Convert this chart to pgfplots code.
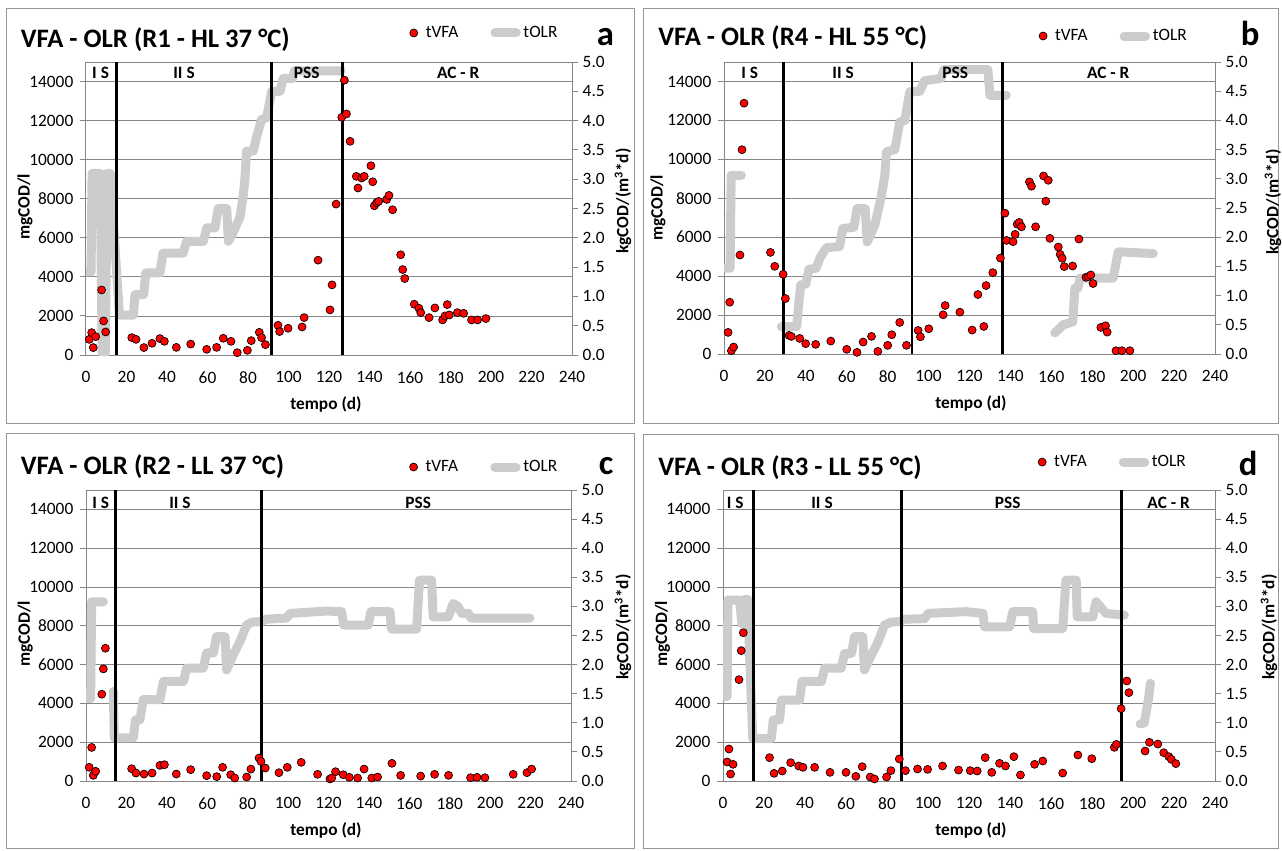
\documentclass[border=0pt]{standalone}
\usepackage{fontspec}
\setmainfont{Carlito}
\usepackage{pgfplots}
\pgfplotsset{compat=1.18}
\definecolor{olrgray}{RGB}{204,204,204}
\definecolor{axgray}{RGB}{134,134,134}
\definecolor{boxgray}{RGB}{150,150,150}
\definecolor{vfared}{RGB}{255,0,0}
\newcommand{\tickfont}{\fontsize{13}{15}\selectfont}
\newcommand{\legfont}{\fontsize{13}{15}\selectfont}
\newcommand{\labfont}{\bfseries\fontsize{13}{15}\selectfont}
\newcommand{\titfont}{\bfseries\fontsize{20}{22}\selectfont}
\newcommand{\letfont}{\bfseries\fontsize{26}{28}\selectfont}
\newcommand{\phfont}{\bfseries\fontsize{13}{15}\selectfont}
\pgfplotsset{
  leftax/.style={scale only axis, anchor=south west, xmin=0, xmax=240, ymin=0, ymax=15000,
    xtick={0,20,...,240}, ytick={0,2000,4000,6000,8000,10000,12000,14000},
    scaled y ticks=false,
    ymajorgrids, grid style={axgray, line width=0.6pt},
    axis line style={axgray, line width=0.75pt},
    tick style={axgray, line width=0.75pt},
    ytick pos=left, xtick pos=bottom, tick align=outside, major tick length=4.5pt,
    xtick style={draw=none},
    ticklabel style={font=\tickfont, text=black},
    /pgf/number format/assume math mode=true,
    yticklabel style={/pgf/number format/fixed, /pgf/number format/1000 sep={}, xshift=-1.5pt},
    xticklabel style={yshift=-4.5pt}},
  rightax/.style={scale only axis, anchor=south west, xmin=0, xmax=240, ymin=0, ymax=5,
    axis x line=none, axis y line*=right,
    ytick={0,0.5,1,1.5,2,2.5,3,3.5,4,4.5,5},
    axis line style={axgray, line width=0.75pt},
    tick style={axgray, line width=0.75pt},
    tick align=outside, major tick length=4.5pt,
    ticklabel style={font=\tickfont, text=black},
    /pgf/number format/assume math mode=true,
    yticklabel style={/pgf/number format/.cd, fixed, fixed zerofill, precision=1}},
  topax/.style={scale only axis, anchor=south west, xmin=0, xmax=240, ymin=0, ymax=15000,
    hide axis, clip=false,
    legend columns=2,
    legend style={draw=none, fill=none, anchor=west, font=\legfont, inner sep=0pt,
      /tikz/every even column/.append style={column sep=22pt}}},
  olrline/.style={olrgray, line width=6.75pt, line join=round, line cap=round, no marks},
  vfamark/.style={only marks, mark=*, mark size=3pt, mark options={fill=vfared, draw=black, line width=0.5pt}, forget plot},
  sepl/.style={black, line width=2.2pt, forget plot},
}
\newcommand{\mylegend}{%
\addlegendimage{legend image code/.code={\draw[fill=vfared, draw=black, line width=0.5pt] (3pt,0pt) circle (3pt); \path[draw=none] (0pt,0pt) -- (10pt,0pt);}}
\addlegendentry{tVFA}
\addlegendimage{legend image code/.code={\draw[olrgray, line width=6.75pt, line cap=round] (4pt,0pt) -- (20pt,0pt);}}
\addlegendentry{tOLR}}
\begin{document}
\begin{tikzpicture}
\useasboundingbox (0,0) rectangle (961.5pt,-637.5pt);
\draw[boxgray, line width=0.75pt] (4.5pt,-6pt) rectangle (475.5pt,-317.25pt);
\draw[boxgray, line width=0.75pt] (482.25pt,-6pt) rectangle (958.5pt,-317.25pt);
\draw[boxgray, line width=0.75pt] (4.5pt,-324.75pt) rectangle (475.5pt,-636pt);
\draw[boxgray, line width=0.75pt] (482.25pt,-325.5pt) rectangle (958.5pt,-636pt);

% ================= PANEL A =================
\begin{axis}[leftax, at={(64.5pt,-266.25pt)}, width=364.5pt, height=219.75pt]
\end{axis}
\begin{axis}[rightax, at={(64.5pt,-266.25pt)}, width=364.5pt, height=219.75pt]
\addplot[olrline] coordinates {(0,1.42)(2.5,1.42)(3,3.1)(7,3.1)(8,0.03)(9.5,0.03)(10.5,3.1)(12,3.1)(16.5,0.68)(23.4,0.68)(24.2,1.03)(28.5,1.03)(29.5,1.40)(36.5,1.40)(38,1.74)(48,1.74)(49.7,1.94)(58,1.94)(59.6,2.17)(63.7,2.17)(65.3,2.5)(69.5,2.5)(70.3,1.94)(72.8,2.1)(76,2.35)(77.7,2.73)(78.5,3.02)(79.3,3.48)(82.6,3.48)(84.3,3.73)(86.7,4.02)(89.2,4.05)(91.7,4.5)(95.8,4.5)(97.4,4.72)(102,4.72)(103,4.85)(126,4.85)};
\end{axis}
\begin{axis}[topax, at={(64.5pt,-266.25pt)}, width=364.5pt, height=219.75pt,
  legend style={at={(axis description cs:0.665,1.099)}}]
\addplot[sepl] coordinates {(15,0)(15,15000)};
\addplot[sepl] coordinates {(91.7,0)(91.7,15000)};
\addplot[sepl] coordinates {(126.6,0)(126.6,15000)};
\addplot[vfamark] coordinates {(1.6,800)(2.8,1145)(3.6,380)(4.8,940)(7.7,3330)(8.7,1745)(9.7,1180)(22.6,890)(24.7,800)(28.6,380)(32.6,600)(36.5,840)(38.7,700)(44.6,390)(51.7,560)(59.6,290)(64.5,390)(67.8,855)(71.6,700)(74.7,120)(79.7,240)(81.6,735)(85.6,1160)(86.7,890)(88.6,530)(94.8,1520)(95.6,1200)(99.8,1370)(106.7,1435)(107.7,1915)(114.6,4855)(120.5,2310)(121.5,3590)(123.5,7725)(126.3,12170)(127.6,14070)(128.6,12340)(130.4,10940)(133.5,9145)(134.3,8550)(136.1,9060)(137.4,9145)(140.7,9690)(141.6,8870)(142.4,7640)(143.5,7795)(144.5,7865)(148.5,7965)(149.6,8170)(151.4,7435)(155.4,5130)(156.4,4375)(157.4,3915)(162.1,2600)(164.4,2395)(165.3,2170)(169.4,1915)(172.3,2410)(176.1,1795)(177.3,2000)(178.4,2580)(179.4,2050)(183.4,2170)(186.5,2135)(190.4,1795)(193.4,1795)(197.5,1865)};
\mylegend
\node[font=\phfont] at (axis cs:7.2,14450) {I S};
\node[font=\phfont] at (axis cs:48.4,14450) {II S};
\node[font=\phfont] at (axis cs:109,14450) {PSS};
\node[font=\phfont] at (axis cs:183.8,14450) {AC - R};
\end{axis}

% ================= PANEL B =================
\begin{axis}[leftax, at={(543pt,-265.5pt)}, width=368.25pt, height=219pt]
\end{axis}
\begin{axis}[rightax, at={(543pt,-265.5pt)}, width=368.25pt, height=219pt]
\addplot[olrline] coordinates {(0,1.47)(3,1.47)(3.5,3.06)(8.5,3.06)};
\addplot[olrline] coordinates {(28,0.47)(35.5,0.47)(36.5,0.85)(37.5,1.18)(40,1.2)(41.5,1.45)(45,1.47)(47,1.65)(50,1.82)(56.5,1.84)(58,2.15)(63.5,2.17)(65,2.49)(69,2.49)(70,1.92)(73.7,2.2)(77,2.72)(78.6,3.06)(79.4,3.46)(83.5,3.5)(85.9,3.97)(88.4,4.0)(90.8,4.49)(95.7,4.5)(98.1,4.68)(106,4.72)(107.5,4.87)(129,4.87)(130,4.43)(138,4.43)};
\addplot[olrline] coordinates {(161.7,0.36)(165.8,0.5)(170.5,0.55)(171.5,1.13)(173,1.13)(174,1.3)(190.2,1.3)(192.7,1.75)(209.8,1.72)};
\end{axis}
\begin{axis}[topax, at={(543pt,-265.5pt)}, width=368.25pt, height=219pt,
  legend style={at={(axis description cs:0.6405,1.089)}}]
\addplot[sepl] coordinates {(28.9,0)(28.9,15000)};
\addplot[sepl] coordinates {(91.9,0)(91.9,15000)};
\addplot[sepl] coordinates {(136.1,0)(136.1,15000)};
\addplot[vfamark] coordinates {(2.0,1110)(2.8,2660)(3.6,170)(4.7,360)(7.8,5085)(8.8,10495)(9.8,12885)(22.7,5220)(24.8,4505)(28.9,4095)(30.0,2850)(31.8,955)(32.9,905)(37.0,800)(39.9,530)(44.8,495)(52.2,665)(60.0,240)(65.0,85)(68.0,615)(72.1,905)(75.2,135)(80.0,445)(82.0,990)(85.9,1620)(89.2,445)(94.9,1210)(96.0,885)(100.1,1295)(107.1,2015)(108.1,2490)(115.3,2150)(121.3,1230)(124.1,3055)(127.0,1415)(128.1,3515)(131.4,4180)(135.1,4930)(137.3,7235)(138.1,5835)(141.3,5770)(142.3,6145)(143.3,6670)(144.3,6760)(145.4,6535)(149.3,8840)(150.3,8620)(152.3,6535)(156.2,9145)(157.3,7850)(158.5,8925)(159.3,5940)(163.4,5495)(164.3,5120)(165.3,4915)(166.3,4490)(170.4,4520)(173.5,5905)(176.9,3940)(178.0,3975)(179.3,4060)(180.4,3620)(184.2,1365)(186.5,1450)(187.3,1125)(191.6,170)(194.5,170)(198.4,170)};
\mylegend
\node[font=\phfont] at (axis cs:12.6,14450) {I S};
\node[font=\phfont] at (axis cs:58.2,14450) {II S};
\node[font=\phfont] at (axis cs:113,14450) {PSS};
\node[font=\phfont] at (axis cs:187.8,14450) {AC - R};
\end{axis}

% ================= PANEL C =================
\begin{axis}[leftax, at={(64.5pt,-585.75pt)}, width=363.75pt, height=218.25pt]
\end{axis}
\begin{axis}[rightax, at={(64.5pt,-585.75pt)}, width=363.75pt, height=218.25pt]
\addplot[olrline] coordinates {(0,1.42)(2.3,1.42)(2.8,3.08)(8.6,3.08)};
\addplot[olrline] coordinates {(13.5,1.54)(14,0.74)(23.4,0.74)(24.5,1.05)(26.7,1.05)(28.3,1.40)(36.6,1.40)(38.3,1.71)(48.2,1.71)(49.8,1.94)(58,1.94)(59.7,2.20)(63,2.20)(64.6,2.48)(68.8,2.48)(69.6,1.91)(72.9,2.17)(76.2,2.40)(79.5,2.68)(82,2.73)(86.9,2.74)(89,2.78)(99.3,2.80)(100.9,2.88)(119,2.92)(126.5,2.91)(127.5,2.68)(139.7,2.68)(141,2.91)(150.4,2.91)(151.2,2.61)(163.6,2.61)(165,3.45)(171,3.45)(171.8,2.82)(179.3,2.82)(181.7,3.05)(184,3.0)(186,2.88)(189.2,2.88)(190.5,2.80)(219.7,2.80)};
\end{axis}
\begin{axis}[topax, at={(64.5pt,-585.75pt)}, width=363.75pt, height=218.25pt,
  legend style={at={(axis description cs:0.666,1.079)}}]
\addplot[sepl] coordinates {(14.7,0)(14.7,15000)};
\addplot[sepl] coordinates {(86.9,0)(86.9,15000)};
\addplot[vfamark] coordinates {(1.6,705)(2.8,1730)(3.6,290)(4.8,500)(7.8,4475)(8.6,5780)(9.6,6845)(22.6,635)(24.7,410)(28.7,360)(32.7,410)(36.6,805)(38.8,840)(44.7,360)(51.8,585)(59.7,275)(64.7,225)(67.6,705)(71.6,325)(73.6,155)(79.5,205)(81.6,615)(85.6,1185)(86.6,1010)(88.7,670)(95.5,430)(99.6,705)(106.5,960)(114.6,345)(120.7,105)(121.6,155)(123.5,480)(127.3,325)(130.3,190)(134.4,155)(137.6,615)(141.4,155)(144.3,205)(151.4,910)(155.7,290)(165.6,255)(172.5,345)(179.4,290)(190.3,170)(193.5,190)(197.4,170)(211.4,345)(218.2,430)(220.5,615)};
\mylegend
\node[font=\phfont] at (axis cs:7.3,14350) {I S};
\node[font=\phfont] at (axis cs:46.5,14350) {II S};
\node[font=\phfont] at (axis cs:164.4,14350) {PSS};
\end{axis}

% ================= PANEL D =================
\begin{axis}[leftax, at={(542.25pt,-585.75pt)}, width=369pt, height=218.25pt]
\end{axis}
\begin{axis}[rightax, at={(542.25pt,-585.75pt)}, width=369pt, height=218.25pt]
\addplot[olrline] coordinates {(0,1.45)(2,1.45)(2.4,3.11)(8.1,3.11)(9.2,2.7)(10.3,3.12)(12,3.12)(14.5,0.73)(23.6,0.73)(24.5,1.05)(27.6,1.05)(28.5,1.39)(37.4,1.39)(38.5,1.71)(48,1.71)(49.6,1.94)(57.7,1.94)(59.3,2.19)(62.6,2.19)(64.2,2.48)(68.2,2.48)(69,1.91)(72.3,2.16)(75.6,2.39)(78.8,2.68)(82,2.73)(86.1,2.74)(88.5,2.78)(98.3,2.79)(100,2.88)(118.6,2.91)(126.8,2.88)(127.6,2.65)(139.8,2.65)(141.4,2.91)(151.1,2.91)(151.5,2.62)(165.7,2.62)(167.3,3.45)(172.3,3.45)(172.8,2.82)(180.4,2.82)(182,3.08)(184,3.0)(186.8,2.88)(195.8,2.85)};
\addplot[olrline] coordinates {(203.5,0.98)(205.5,1.0)(207.5,1.4)(208.5,1.68)};
\end{axis}
\begin{axis}[topax, at={(542.25pt,-585.75pt)}, width=369pt, height=218.25pt,
  legend style={at={(axis description cs:0.6394,1.096)}}]
\addplot[sepl] coordinates {(15,0)(15,15000)};
\addplot[sepl] coordinates {(86.9,0)(86.9,15000)};
\addplot[sepl] coordinates {(194.2,0)(194.2,15000)};
\addplot[vfamark] coordinates {(2.0,980)(2.9,1650)(3.7,360)(4.9,860)(7.8,5225)(8.9,6720)(9.9,7645)(22.7,1205)(24.9,395)(28.9,515)(33.0,945)(36.9,775)(39.0,705)(44.7,705)(52.2,445)(60.0,445)(64.8,240)(67.9,740)(71.8,205)(73.9,105)(79.8,205)(81.9,535)(86.0,1135)(89.0,535)(94.9,620)(99.8,600)(107.1,775)(114.9,565)(120.6,535)(124.0,515)(127.9,1205)(131.1,445)(134.9,910)(137.8,775)(141.9,1255)(145.1,310)(152.0,860)(156.0,1030)(165.7,410)(173.1,1340)(179.9,1150)(190.9,1735)(191.9,1890)(194.2,3730)(197.0,5155)(198.0,4555)(205.9,1545)(208.0,1995)(212.1,1905)(215.0,1460)(217.5,1255)(218.7,1115)(220.9,895)};
\mylegend
\node[font=\phfont] at (axis cs:6.0,14350) {I S};
\node[font=\phfont] at (axis cs:48.3,14350) {II S};
\node[font=\phfont] at (axis cs:138.9,14350) {PSS};
\node[font=\phfont] at (axis cs:217.4,14350) {AC - R};
\end{axis}

% ================= TEXT =================
\node[anchor=base west, font=\titfont, inner sep=0pt] at (15.4pt,-35.25pt) {VFA - OLR (R1 - HL 37 °C)};
\node[anchor=base west, font=\titfont, inner sep=0pt] at (493.5pt,-33.75pt) {VFA - OLR (R4 - HL 55 °C)};
\node[anchor=base west, font=\titfont, inner sep=0pt] at (15.4pt,-355.5pt) {VFA - OLR (R2 - LL 37 °C)};
\node[anchor=base west, font=\titfont, inner sep=0pt] at (493.5pt,-356.25pt) {VFA - OLR (R3 - LL 55 °C)};
\node[anchor=base west, font=\letfont, inner sep=0pt] at (447.5pt,-34.3pt) {a};
\node[anchor=base west, font=\letfont, inner sep=0pt] at (930.5pt,-34.3pt) {b};
\node[anchor=base west, font=\letfont, inner sep=0pt] at (449pt,-355.5pt) {c};
\node[anchor=base west, font=\letfont, inner sep=0pt] at (929pt,-356.25pt) {d};

\node[rotate=90, font=\labfont] at (18.75pt,-155.25pt) {mgCOD/l};
\node[rotate=90, font=\labfont] at (467.25pt,-150.75pt) {kgCOD/(m\textsuperscript{3}*d)};
\node[font=\labfont] at (244.5pt,-303pt) {tempo (d)};
\node[rotate=90, font=\labfont] at (493.5pt,-156pt) {mgCOD/l};
\node[rotate=90, font=\labfont] at (954.75pt,-151.5pt) {kgCOD/(m\textsuperscript{3}*d)};
\node[font=\labfont] at (728.25pt,-302.25pt) {tempo (d)};
\node[rotate=90, font=\labfont] at (19pt,-475.5pt) {mgCOD/l};
\node[rotate=90, font=\labfont] at (467.25pt,-470.25pt) {kgCOD/(m\textsuperscript{3}*d)};
\node[font=\labfont] at (244.5pt,-622.5pt) {tempo (d)};
\node[rotate=90, font=\labfont] at (496.9pt,-475.5pt) {mgCOD/l};
\node[rotate=90, font=\labfont] at (951.75pt,-470.25pt) {kgCOD/(m\textsuperscript{3}*d)};
\node[font=\labfont] at (728.25pt,-622.5pt) {tempo (d)};
\end{tikzpicture}
\end{document}
